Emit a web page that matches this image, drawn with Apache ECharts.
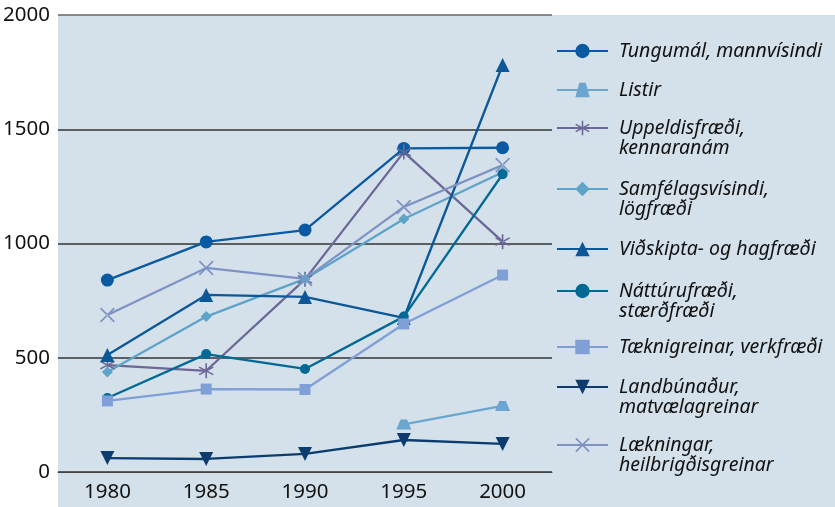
<!DOCTYPE html>
<html>
<head>
<meta charset="utf-8">
<script src="https://cdn.jsdelivr.net/npm/echarts@6/dist/echarts.min.js"></script>
<style>
    html, body {margin: 0; padding: 0; background: #fff;}
    #chart {width: 835px; height: 507px;}
</style>
</head>
<body>
<div id="chart"></div>
<script>
var years = ['1980', '1985', '1990', '1995', '2000'];
var yTicks = [0, 500, 1000, 1500, 2000];

var tungumal = [840, 1007, 1059, 1416, 1419];
var listir = [null, null, null, 208, 289];
var uppeldis = [468, 443, 843, 1400, 1008];
var samfelags = [438, 680, 845, 1107, 1312];
var vidskipta = [512, 775, 766, 674, 1781];
var natturu = [324, 516, 451, 680, 1303];
var taekni = [311, 363, 361, 648, 862];
var landbu = [61, 57, 79, 140, 123];
var laekn = [687, 893, 845, 1160, 1343];

var names = ['Tungumál, mannvísindi', 'Listir', 'Uppeldisfræði,\nkennaranám',
    'Samfélagsvísindi,\nlögfræði', 'Viðskipta- og hagfræði', 'Náttúrufræði,\nstærðfræði',
    'Tæknigreinar, verkfræði', 'Landbúnaður,\nmatvælagreinar', 'Lækningar,\nheilbrigðisgreinar'];
var values = [tungumal, listir, uppeldis, samfelags, vidskipta, natturu, taekni, landbu, laekn];
var colors = ['#0a5aa3', '#6aa6cf', '#6b6898', '#5fa3c9', '#0b5797', '#006a94', '#7f9fd6', '#0c3c6e', '#7e93c4'];

var asterisk = 'path://M45,0 L55,0 L55,100 L45,100 Z M4.2,29.3 L9.2,20.7 L95.8,70.7 L90.8,79.3 Z M4.2,70.7 L9.2,79.3 L95.8,29.3 L90.8,20.7 Z';
var cross = 'path://M0,8 L8,0 L100,92 L92,100 Z M0,92 L8,100 L100,8 L92,0 Z';
var trapez = 'path://M28,0 L72,0 L100,100 L0,100 Z';
var downTri = 'path://M0,0 L100,0 L50,100 Z';
var symbols = ['circle', trapez, asterisk, 'diamond', 'triangle', 'circle', 'rect', downTri, cross];
var sizes = [13, [15, 10], 15, 11, 14, 10, 11, 14, 15];

var legendY = [51, 90, 128, 189, 249, 291, 347, 387, 445];
var lh = 20;

var series = [];
var legends = [];
for (var i = 0; i < names.length; i++) {
    series.push({
        name: names[i],
        type: 'line',
        data: values[i],
        symbol: symbols[i],
        symbolSize: sizes[i],
        showSymbol: true,
        connectNulls: false,
        itemStyle: {color: colors[i]},
        lineStyle: {color: colors[i], width: 2.3}
    });
    var twoLines = names[i].indexOf('\n') >= 0;
    legends.push({
        data: [names[i]],
        // a blank first line keeps the first text line level with the icon
        formatter: function (name) {
            return name.indexOf('\n') >= 0 ? '\n' + name : name;
        },
        left: 556,
        top: twoLines ? legendY[i] - 1.5 * lh : legendY[i] - lh / 2,
        orient: 'vertical',
        padding: 0,
        itemWidth: 51,
        itemHeight: 18,
        itemGap: 0,
        selectedMode: false,
        textStyle: {
            fontFamily: 'Noto Sans',
            fontStyle: 'italic',
            fontSize: 19.5,
            lineHeight: lh,
            color: '#111',
            padding: [0, 0, 0, 6]
        }
    });
}

var chart = echarts.init(document.getElementById('chart'));
var option = {
    animation: false,
    graphic: [{
        type: 'rect',
        left: 58,
        top: 15,
        z: -10,
        silent: true,
        shape: {width: 777, height: 492},
        style: {fill: '#d5e1ea'}
    }],
    grid: {left: 58, top: 15, width: 494, height: 457},
    xAxis: {
        type: 'category',
        data: years,
        boundaryGap: true,
        axisLine: {lineStyle: {color: '#444', width: 1}},
        axisTick: {length: 10, lineStyle: {color: '#444'}},
        axisLabel: {fontFamily: 'Noto Sans', fontSize: 20.5, color: '#111', margin: 10}
    },
    yAxis: {
        type: 'value',
        min: yTicks[0],
        max: yTicks[yTicks.length - 1],
        interval: 500,
        axisLine: {show: false},
        axisTick: {show: false},
        axisLabel: {
            fontFamily: 'Noto Sans', fontSize: 20.5, color: '#111', margin: 8,
            formatter: function (v) { return String(v); }
        },
        splitLine: {lineStyle: {color: ['#333', '#333', '#333', '#333', '#666'], width: 1.5}}
    },
    legend: legends,
    series: series
};
chart.setOption(option);
</script>
</body>
</html>
